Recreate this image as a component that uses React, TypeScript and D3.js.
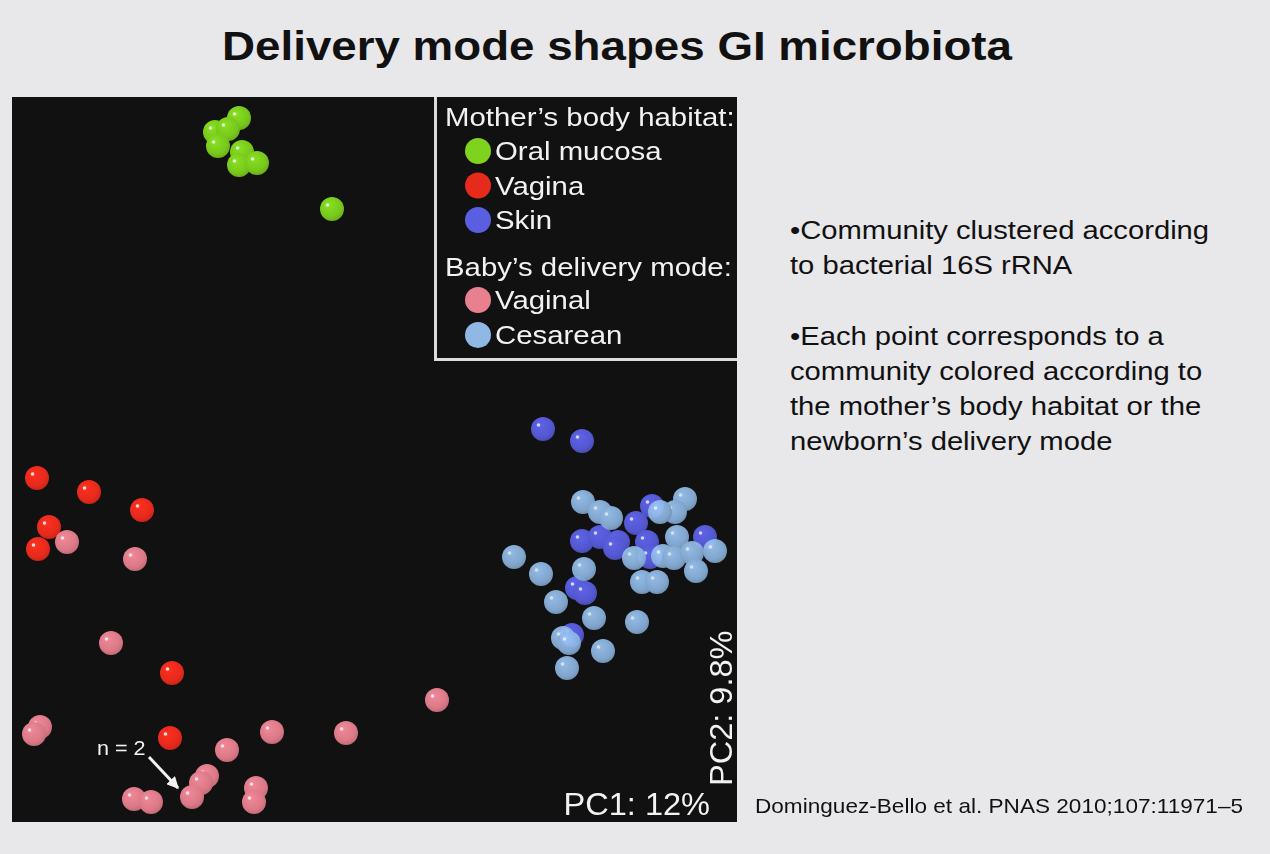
import * as d3 from 'd3';

// PCoA scores (arbitrary PC units, origin bottom-left of panel)
const oralMucosa: [number, number][] = [
  [227, 704], [203, 690], [216, 693], [206, 676], [230, 670], [227, 657], [245, 659], [320, 613],
];
const vagina: [number, number][] = [
  [25, 344], [77, 330], [130, 312], [37, 295], [26, 273], [160, 149], [158, 84],
];
const skin: [number, number][] = [
  [531, 393], [570, 381], [640, 316], [624, 299], [570, 281], [588, 285], [606, 280],
  [603, 274], [635, 280], [638, 265], [693, 285], [565, 234], [573, 229], [560, 187],
];
const vaginalBirth: [number, number][] = [
  [55, 280], [123, 263], [99, 179], [28, 95], [22, 88], [425, 122], [260, 90], [334, 89],
  [215, 72], [195, 46], [189, 39], [180, 25], [122, 23], [139, 20], [244, 34], [242, 20],
];
const cesarean: [number, number][] = [
  [571, 320], [588, 310], [599, 304], [673, 323], [663, 310], [648, 310], [665, 285],
  [622, 264], [651, 266], [662, 264], [680, 269], [703, 271], [684, 251], [630, 240],
  [645, 240], [502, 265], [529, 248], [572, 253], [544, 220], [582, 204], [625, 200],
  [551, 184], [557, 179], [591, 171], [555, 154],
];

const motherLabels = ['Oral mucosa', 'Vagina', 'Skin'];
const babyLabels = ['Vaginal', 'Cesarean'];
const bulletLines = [
  ['•Community clustered according', 'to bacterial 16S rRNA'],
  ['•Each point corresponds to a', 'community colored according to', 'the mother’s body habitat or the', 'newborn’s delivery mode'],
];

const COLORS: Record<string, string> = {
  'Oral mucosa': '#7fd31e',
  Vagina: '#e62a1c',
  Skin: '#5a5fe2',
  Vaginal: '#e8808f',
  Cesarean: '#8fb8e4',
};

const SERIES: { key: string; pts: [number, number][]; opacity: number }[] = [
  { key: 'Oral mucosa', pts: oralMucosa, opacity: 0.95 },
  { key: 'Vagina', pts: vagina, opacity: 1 },
  { key: 'Skin', pts: skin, opacity: 0.92 },
  { key: 'Vaginal', pts: vaginalBirth, opacity: 0.95 },
  { key: 'Cesarean', pts: cesarean, opacity: 0.9 },
];

const FONT = '"Liberation Sans", Arial, Helvetica, sans-serif';
const W = 1270;
const H = 854;
const plot = { x0: 12, y0: 97, x1: 737, y1: 822 };
const R = 12;
// the slide text is drawn a little wider than Arial
const STRETCH = 1.13;

function T(props: { x: number; y: number; size: number; fill: string; weight?: string; anchor?: 'middle' | 'end'; sx?: number; children: string }) {
  const { x, y, size, fill, weight, anchor, sx = STRETCH, children } = props;
  return (
    <text
      transform={`translate(${x},${y}) scale(${sx},1)`}
      textAnchor={anchor}
      fontFamily={FONT}
      fontWeight={weight}
      fontSize={size}
      fill={fill}
    >
      {children}
    </text>
  );
}

export default function App() {
  const x = d3.scaleLinear().domain([0, 725]).range([plot.x0, plot.x1]);
  const y = d3.scaleLinear().domain([0, 725]).range([plot.y1, plot.y0]);
  const gradId = (k: string) => 'g-' + k.replace(/\s/g, '');

  return (
    <svg width={W} height={H} style={{ position: 'absolute', left: 0, top: 0, display: 'block' }}>
      <defs>
        {Object.entries(COLORS).map(([k, c]) => (
          <radialGradient key={k} id={gradId(k)} cx="0.45" cy="0.4" r="0.6" fx="0.35" fy="0.3">
            <stop offset="0%" stopColor={d3.color(c)!.brighter(0.35).formatHex()} />
            <stop offset="75%" stopColor={c} />
            <stop offset="100%" stopColor={d3.color(c)!.darker(0.35).formatHex()} />
          </radialGradient>
        ))}
        <marker id="arrow" viewBox="0 0 10 10" refX="9" refY="5" markerWidth="4" markerHeight="4" orient="auto">
          <path d="M0,0 L10,5 L0,10 z" fill="#f2f2f2" />
        </marker>
      </defs>
      <rect width={W} height={H} fill="#e8e7ea" />

      <T x={617} y={60} size={41} weight="bold" anchor="middle" fill="#111" sx={1.115}>
        Delivery mode shapes GI microbiota
      </T>

      {/* panel */}
      <rect x={plot.x0} y={plot.y0} width={plot.x1 - plot.x0} height={plot.y1 - plot.y0} fill="#111111" />

      {SERIES.map(s => (
        <g key={s.key} opacity={s.opacity}>
          {s.pts.map((p, i) => (
            <g key={i}>
              <circle cx={x(p[0])} cy={y(p[1])} r={R} fill={`url(#${gradId(s.key)})`} />
              <circle cx={x(p[0]) - 4.5} cy={y(p[1]) - 4} r={1.8} fill="#ffffff" opacity={0.85} />
            </g>
          ))}
        </g>
      ))}

      {/* n = 2 note */}
      <T x={97} y={755} size={20} fill="#f2f2f2" sx={1.08}>n = 2</T>
      <line x1={149} y1={757} x2={178} y2={788} stroke="#f2f2f2" strokeWidth={3} markerEnd="url(#arrow)" />

      {/* legend */}
      <rect x={435} y={plot.y0} width={plot.x1 - 435} height={360 - plot.y0} fill="#111111" />
      <path d={`M435.5,${plot.y0} V359.5 H${plot.x1}`} fill="none" stroke="#dcdcdc" strokeWidth={3} />
      <T x={445} y={126} size={26} fill="#f2f2f2">Mother’s body habitat:</T>
      {motherLabels.map((l, i) => (
        <g key={l}>
          <circle cx={478} cy={151 + i * 34.5} r={13} fill={COLORS[l]} />
          <T x={495} y={160 + i * 34.5} size={26} fill="#f2f2f2">{l}</T>
        </g>
      ))}
      <T x={445} y={276} size={26} fill="#f2f2f2">Baby’s delivery mode:</T>
      {babyLabels.map((l, i) => (
        <g key={l}>
          <circle cx={478} cy={300 + i * 35} r={13} fill={COLORS[l]} />
          <T x={495} y={309 + i * 35} size={26} fill="#f2f2f2">{l}</T>
        </g>
      ))}

      {/* axis labels */}
      <T x={710} y={815} size={31} anchor="end" fill="#f2f2f2" sx={1.05}>PC1: 12%</T>
      <text transform="translate(732,786) rotate(-90) scale(1.05,1)" fontFamily={FONT} fontSize={31} fill="#f2f2f2">PC2: 9.8%</text>

      {/* bullets */}
      {bulletLines.map((para, pi) =>
        para.map((line, li) => (
          <T key={`${pi}-${li}`} x={790} y={239 + pi * 106 + li * 35} size={25.5} fill="#111" sx={1.145}>
            {line}
          </T>
        ))
      )}

      <T x={755} y={813} size={20} fill="#111">Dominguez-Bello et al. PNAS 2010;107:11971–5</T>
    </svg>
  );
}
